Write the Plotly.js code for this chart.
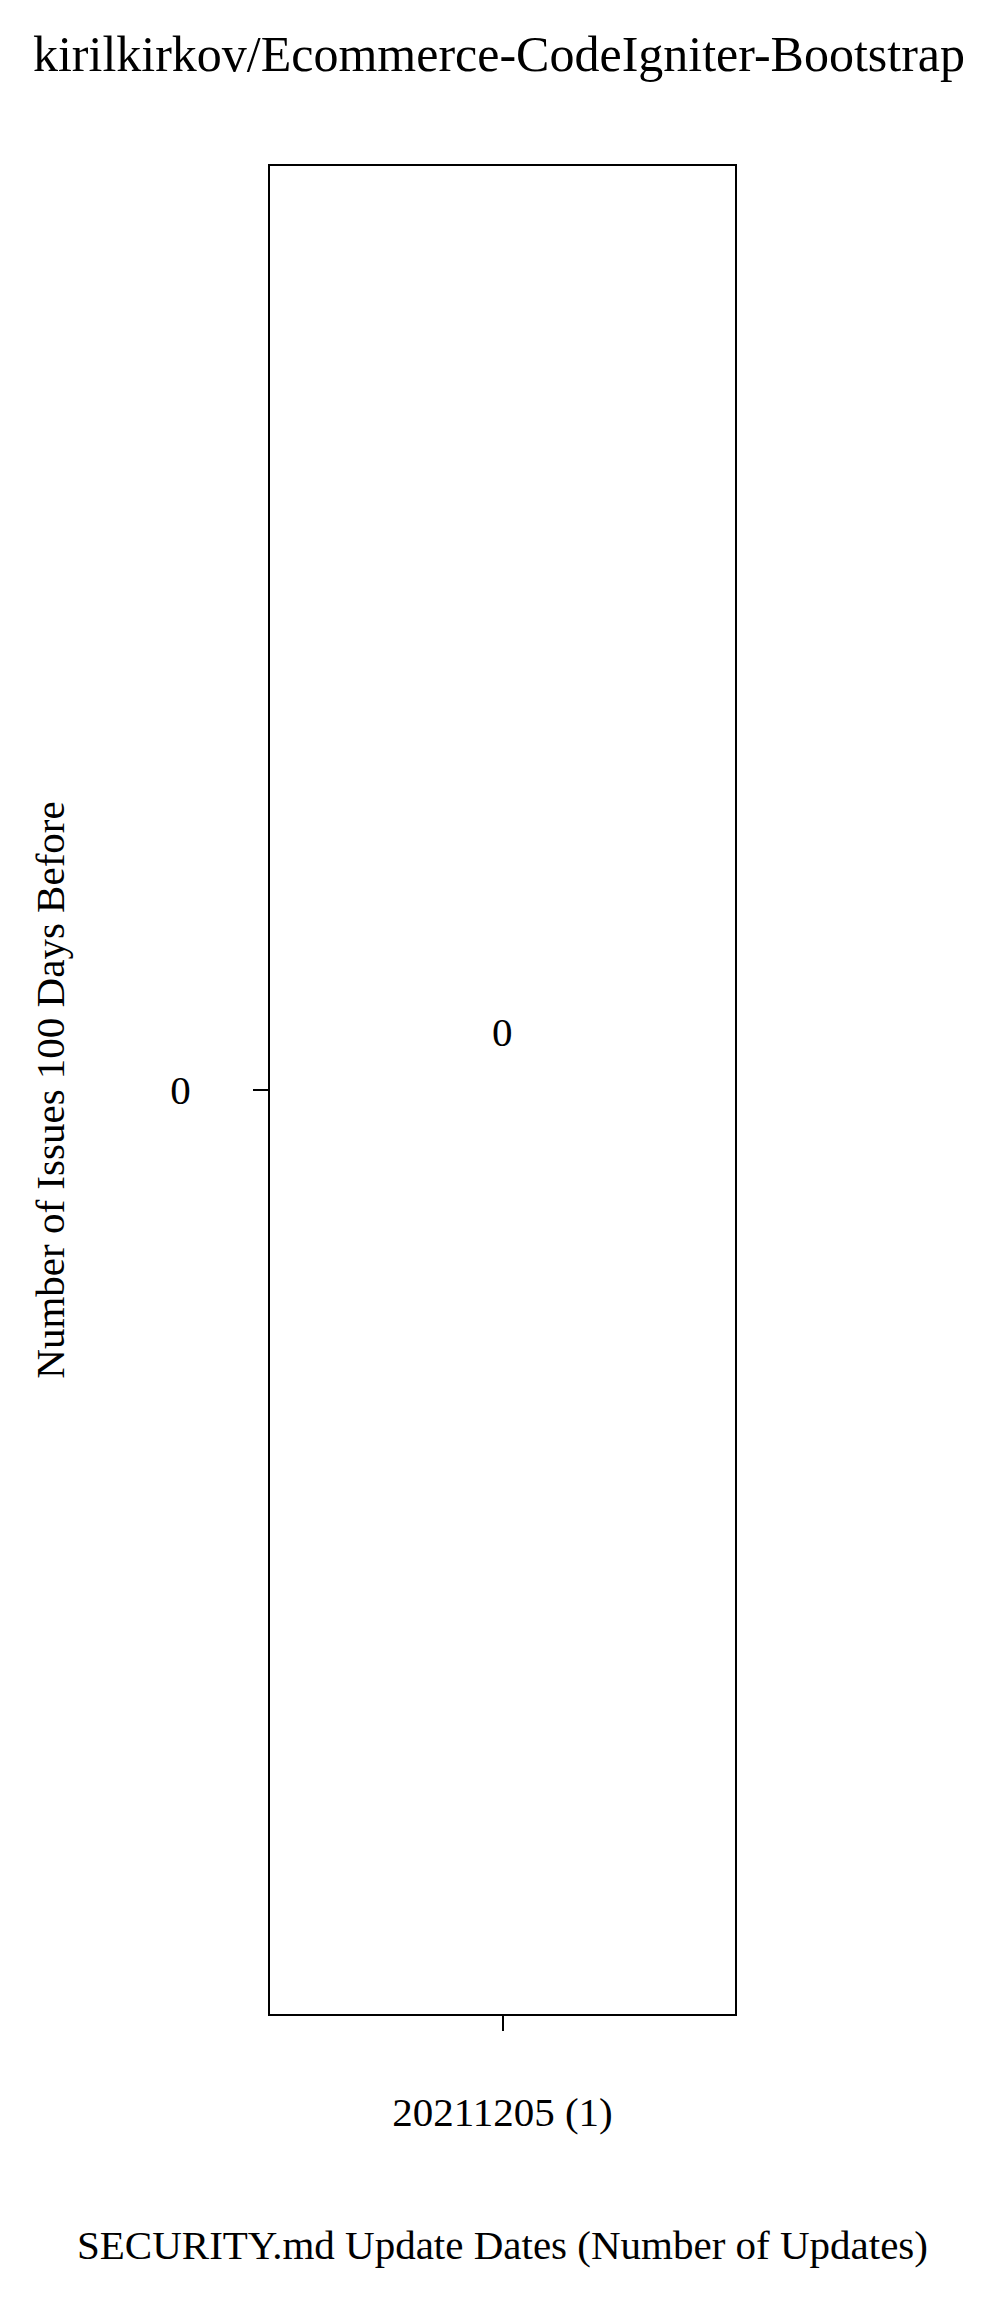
<!DOCTYPE html>
<html>
<head>
<meta charset="utf-8">
<script src="https://cdn.plot.ly/plotly-3.0.1.min.js"></script>
<style>html,body{margin:0;padding:0;background:#fff;}</style>
</head>
<body>
<div id="chart" style="width:998px;height:2300px;"></div>
<script>
const categories = ["20211205 (1)"];
const issueCounts = [0];
const labels = issueCounts.map(String);

const FONT = "Liberation Serif, Times New Roman, serif";

const trace = {
  type: "bar",
  x: categories,
  y: issueCounts,
  marker: {color: "#1f77b4"},
  width: 0.5,
  hoverinfo: "skip"
};

const layout = {
  width: 998,
  height: 2300,
  margin: {l: 270, r: 263, t: 166, b: 286},
  paper_bgcolor: "#fff",
  plot_bgcolor: "#fff",
  showlegend: false,
  font: {family: FONT, size: 41, color: "#000"},
  title: {text: "kirilkirkov/Ecommerce-CodeIgniter-Bootstrap", x: 0.5, xanchor: "center", y: 1 - 53/2300, yanchor: "middle", yref: "container", font: {family: FONT, size: 50, color: "#000"}},
  xaxis: {
    type: "category",
    showgrid: false,
    zeroline: false,
    showline: true, linecolor: "#000", linewidth: 2, mirror: true,
    ticks: "outside", ticklen: 15, tickwidth: 2, tickcolor: "#000",
    ticklabelstandoff: 46,
    tickfont: {family: FONT, size: 41, color: "#000"},
    title: {text: "SECURITY.md Update Dates (Number of Updates)", standoff: 96, font: {family: FONT, size: 41, color: "#000"}},
    automargin: false
  },
  yaxis: {
    range: [-1, 1],
    tickvals: [0],
    ticktext: ["0"],
    showgrid: false,
    zeroline: false,
    showline: true, linecolor: "#000", linewidth: 2, mirror: true,
    ticks: "outside", ticklen: 15, tickwidth: 2, tickcolor: "#000",
    ticklabelstandoff: 54,
    tickfont: {family: FONT, size: 41, color: "#000"},
    title: {text: "Number of Issues 100 Days Before", standoff: 93, font: {family: FONT, size: 41, color: "#000"}},
    automargin: false
  },
  annotations: categories.map((c, i) => ({
    x: c, y: issueCounts[i], xref: "x", yref: "y",
    text: labels[i], showarrow: false, yshift: 58,
    font: {family: FONT, size: 41, color: "#000"}
  }))
};

Plotly.newPlot("chart", [trace], layout, {staticPlot: true, displayModeBar: false});
</script>
</body>
</html>
